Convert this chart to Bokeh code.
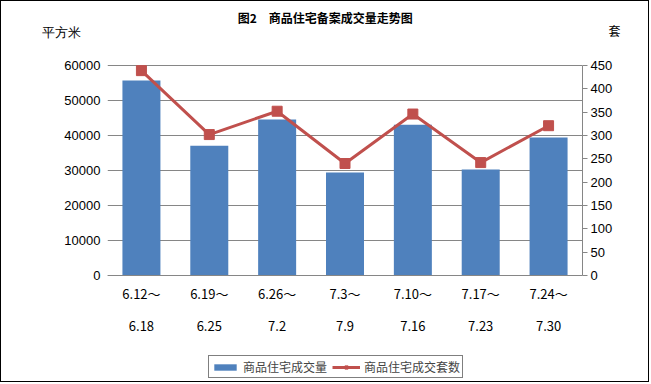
from bokeh.plotting import figure
from bokeh.models import (Range1d, LinearAxis, FactorRange, ColumnDataSource, LabelSet,
                          Label, Legend, LegendItem, FixedTicker, Span)
from bokeh.core.properties import value
from bokeh.embed import file_html
from bokeh.resources import INLINE

# ---- data ----
week_start = ["6.12～", "6.19～", "6.26～", "7.3～", "7.10～", "7.17～", "7.24～"]
week_end = ["6.18", "6.25", "7.2", "7.9", "7.16", "7.23", "7.30"]
area = [55700, 37100, 44600, 29400, 43100, 30300, 39400]   # 平方米
units = [439, 302, 352, 240, 346, 242, 321]                # 套
area_ticks = [0, 10000, 20000, 30000, 40000, 50000, 60000]
unit_ticks = [0, 50, 100, 150, 200, 250, 300, 350, 400, 450]

title_text = "图2\u3000商品住宅备案成交量走势图"
left_unit = "平方米"
right_unit = "套"
bar_name = "商品住宅成交量"
line_name = "商品住宅成交套数"

BLUE = "#4F81BD"
RED = "#C0504D"
GRID = "#868686"
CJK = "Noto Sans CJK SC"
NUM = "Liberation Sans"

# ---- layout constants (pixels) ----
W, H = 649, 382
LEFT, RIGHT = 106, 68          # side panels
BASE = 274                     # pixel row of value 0 (from top of canvas)
AXIS_PX = 210                  # pixel height of the 0..60000 span
per_px = area_ticks[-1] / AXIS_PX
per_px_u = unit_ticks[-1] / AXIS_PX

def area_at(row):   # value of the left scale at a pixel row
    return (BASE - row) * per_px

def units_at(row):
    return (BASE - row) * per_px_u

cats = [s + e for s, e in zip(week_start, week_end)]
src = ColumnDataSource(dict(cat=cats, start=week_start, end=week_end, area=area, units=units))

p = figure(width=W, height=H, output_backend="svg", toolbar_location=None,
           x_range=FactorRange(factors=cats, range_padding=0),
           y_range=Range1d(area_at(H), area_at(0)),
           min_border_left=LEFT, min_border_right=RIGHT, min_border_top=0, min_border_bottom=0)
p.extra_y_ranges = {"units": Range1d(units_at(H), units_at(0))}
p.outline_line_color = None
p.background_fill_color = "white"
p.border_fill_color = "white"
p.styles = {"border": "1px solid #000000"}
p.xaxis.visible = False

# grid
p.xgrid.visible = False
p.ygrid.grid_line_color = GRID
p.ygrid.grid_line_width = 1
p.ygrid.ticker = FixedTicker(ticks=area_ticks)

# left axis (its top label is the unit)
left_unit_val = round(area_at(31))
ya = p.yaxis[0]
ya.ticker = FixedTicker(ticks=area_ticks + [left_unit_val])
ya.major_label_overrides = {left_unit_val: left_unit + "\u3000\u2002"}
ya.axis_line_color = None
ya.major_tick_line_color = None
ya.major_tick_out = 0
ya.major_tick_in = 0
ya.minor_tick_line_color = None
ya.major_label_text_font = NUM
ya.major_label_text_font_size = "13px"
ya.major_label_text_color = "#000000"
ya.major_label_standoff = 7

# right axis
ra = LinearAxis(y_range_name="units", ticker=FixedTicker(ticks=unit_ticks),
                bounds=(0, unit_ticks[-1]))
ra.axis_line_color = GRID
ra.major_tick_line_color = GRID
ra.major_tick_out = 5
ra.major_tick_in = 0
ra.minor_tick_line_color = None
ra.major_label_text_font = NUM
ra.major_label_text_font_size = "13px"
ra.major_label_text_color = "#000000"
ra.major_label_standoff = 3
p.add_layout(ra, "right")

# right unit label as an outer axis carrying a single labelled tick
right_unit_val = round(units_at(29))
ru = LinearAxis(y_range_name="units", ticker=FixedTicker(ticks=[right_unit_val]),
                major_label_overrides={right_unit_val: right_unit})
ru.axis_line_color = None
ru.major_tick_line_color = None
ru.major_tick_out = 0
ru.major_tick_in = 0
ru.minor_tick_line_color = None
ru.major_label_text_font = CJK
ru.major_label_text_font_size = "12px"
ru.major_label_text_color = "#000000"
ru.major_label_standoff = -7
p.add_layout(ru, "right")

# category axis: base line at 0 plus two rows of labels
p.add_layout(Span(location=0, dimension="width", line_color=GRID, line_width=1))
for col, row in [("start", 292), ("end", 324)]:
    p.add_layout(LabelSet(x="cat", y=area_at(row), text=col, source=src,
                          text_align="center", text_baseline="middle",
                          text_font=value(CJK), text_font_size="13px", text_color="#000000"))

# marks
bars = p.vbar(x="cat", top="area", width=0.56, source=src, fill_color=BLUE, line_color=None)
ln = p.line(x="cat", y="units", source=src, y_range_name="units", line_color=RED, line_width=3)
sq = p.scatter(x="cat", y="units", source=src, y_range_name="units", marker="square",
               size=10, fill_color=RED, line_color=RED)

# title
p.add_layout(Label(x=3.21, y=area_at(16), text=title_text, text_align="center",
                   text_baseline="middle", text_font=CJK, text_font_size="12px",
                   text_font_style="bold", text_color="#000000"))

# legend
legend = Legend(items=[LegendItem(label=bar_name, renderers=[bars]),
                       LegendItem(label=line_name, renderers=[ln, sq])],
                orientation="horizontal", location=(101, 5),
                glyph_width=28, glyph_height=8, label_text_font=CJK,
                label_text_font_size="12px", label_standoff=4, spacing=5,
                padding=2, margin=0, border_line_color="#000000", border_line_width=1,
                background_fill_alpha=1)
p.add_layout(legend, "center")

open("out.html", "w").write(file_html(p, INLINE))
